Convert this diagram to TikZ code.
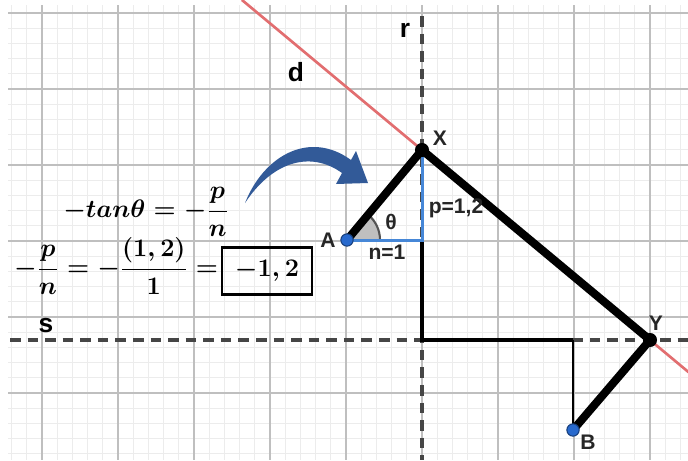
\documentclass[tikz,border=0pt]{standalone}
\usepackage[no-math]{fontspec}
\setmainfont{Liberation Sans}
\usepackage{amsmath}
\usetikzlibrary{arrows.meta, calc}
\definecolor{dred}{RGB}{226,110,112}
\definecolor{pblue}{RGB}{40,105,205}
\definecolor{lblue}{RGB}{70,135,215}
\definecolor{abluec}{RGB}{50,90,152}
\definecolor{axgray}{RGB}{70,70,70}

\begin{document}
\begin{tikzpicture}[
    x=0.02cm, y=-0.02cm,
    minorgrid/.style={gray!15, line width=0.4pt},
    majorgrid/.style={gray!50, line width=0.6pt},
    axisln/.style={axgray, line width=2pt, dash pattern=on 6pt off 4pt},
    dline/.style={dred, line width=1.5pt},
    seg/.style={line width=4.6pt, line cap=round},
    linkln/.style={line width=2pt},
    bline/.style={lblue, line width=1.7pt},
    bdot/.style={circle, fill=pblue, draw=pblue!60!black, line width=0.6pt, inner sep=0pt, minimum size=7pt},
    kdot/.style={circle, fill=black, inner sep=0pt, minimum size=8pt},
    lbl/.style={font=\fontsize{12}{14}\selectfont\bfseries, text=black!85},
    axlbl/.style={font=\fontsize{15}{18}\selectfont\bfseries},
    eqn/.style={font=\fontsize{14.5}{17}\selectfont\boldmath, inner sep=0pt},
  ]
    \useasboundingbox (0,0) rectangle (688,460);
    \fill[white] (0,0) rectangle (688,460);
    \foreach \i in {-2,...,42}
      \draw[minorgrid] ({42+15.2*\i},5) -- ({42+15.2*\i},460);
    \foreach \j in {0,...,29}
      \draw[minorgrid] (8,{13+15.2*\j}) -- (688,{13+15.2*\j});
    \foreach \i in {0,...,8}
      \draw[majorgrid] ({42+76*\i},5) -- ({42+76*\i},460);
    \foreach \j in {0,...,5}
      \draw[majorgrid] (8,{13+76*\j}) -- (688,{13+76*\j});

    \coordinate (X) at (422,150);
    \coordinate (Y) at (650,340);
    \coordinate (A) at (347,240);
    \coordinate (B) at (573,430);
    \coordinate (F) at (422,240);
    \coordinate (O) at (422,340);
    \coordinate (C) at (573,340);
    \coordinate (rtop) at (422,16);
    \coordinate (rbot) at (422,460);
    \coordinate (sleft) at (10,340);
    \coordinate (sright) at (688,340);

    \draw[axisln] (rtop) -- (rbot);
    \draw[axisln] (sleft) -- (sright);
    \node[axlbl] (rl) at (405,30) {r};
    \node[axlbl] (sl) at (46,326) {s};

    \draw[dline] ($(X)!-0.79!(Y)$) -- ($(X)!1.17!(Y)$);
    \node[axlbl] (dl) at (296,72) {d};

    \fill[gray!50] (A) -- ++(33,0) arc[start angle=0, end angle=-50, radius=33] -- cycle;
    \draw[gray!65!black, line width=1.2pt] ($(A)+(33,0)$) arc[start angle=0, end angle=-50, radius=33];

    \draw[linkln] (F) -- (O) -- (C);
    \draw[line width=1.1pt] (C) -- (B);
    \draw[bline] (A) -- (F) -- (X);
    \draw[seg] (A) -- (X) -- (Y) -- (B);

    \node[kdot] (Xd) at (X) {};
    \node[kdot] (Yd) at (Y) {};
    \node[bdot] (Ad) at (A) {};
    \node[bdot] (Bd) at (B) {};

    \node[lbl] (Xl) at (440,138) {X};
    \node[lbl] (Yl) at (656,323) {Y};
    \node[lbl] (Al) at (328,240) {A};
    \node[lbl] (Bl) at (588,442) {B};
    \node[lbl] (tl) at (391,222) {θ};
    \node[lbl] (pl) at (456,208) {p=1,2};
    \node[lbl] (nl) at (387,252) {n=1};

    \fill[abluec] (245,203) .. controls (264,155) and (310,130) .. (351,160)
      -- (356,151) -- (368,183) -- (336,184) -- (342,173)
      .. controls (310,150) and (272,162) .. cycle;

    \node[eqn] (e1) at (146,212) {$-tan\theta=-\dfrac{p}{n}$};
    \node[eqn, font=\fontsize{13.6}{16}\selectfont\boldmath] (e2) at (116,266) {$-\dfrac{p}{n}=-\dfrac{(1,2)}{1}=$};
    \node[eqn, draw, line width=1.2pt, minimum width=1.8cm, minimum height=0.94cm] (res) at (267,271) {$-1,2$};
  \end{tikzpicture}
\end{document}
